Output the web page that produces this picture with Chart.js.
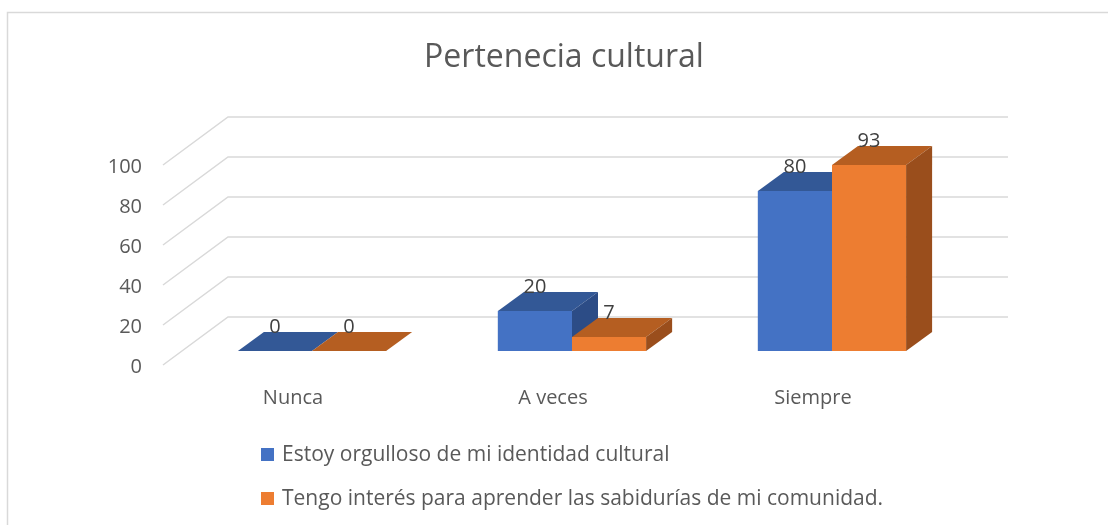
<!DOCTYPE html>
<html>
<head>
<meta charset="utf-8">
<script src="https://cdn.jsdelivr.net/npm/chart.js@4.4.1/dist/chart.umd.min.js"></script>
<style>
  html, body { margin: 0; background: #fff; }
  #wrap { width: 1108px; height: 525px; }
</style>
</head>
<body>
<div id="wrap"><canvas id="chart" width="1108" height="525"></canvas></div>
<script>
// data
const titleText = 'Pertenecia cultural';
const categories = ['Nunca', 'A veces', 'Siempre'];
const seriesNames = [
  'Estoy orgulloso de mi identidad cultural',
  'Tengo interés para aprender las sabidurías de mi comunidad.'
];
const orgullo = [0, 20, 80];
const interes = [0, 7, 93];
const yTicks = [0, 20, 40, 60, 80, 100];

const FONT = '"Open Sans", Lato, sans-serif';
const fronts = ['#4472C4', '#ED7D31'];
const tops = ['#335896', '#B55E21'];
const sides = ['#2C4C86', '#9A4E1C'];

// 3d offsets (px) relative to the bars' front plane
const DEPTH = { dx: 26, dy: -19 };
const BACK = { dx: 46, dy: -34 };
const FRONT = { dx: -19, dy: 14 };

function poly(ctx, pts, color) {
  ctx.fillStyle = color;
  ctx.beginPath();
  ctx.moveTo(pts[0][0], pts[0][1]);
  for (let i = 1; i < pts.length; i++) ctx.lineTo(pts[i][0], pts[i][1]);
  ctx.closePath();
  ctx.fill();
}

const decor = {
  id: 'decor',
  beforeDatasetsDraw(chart) {
    const { ctx, chartArea: a } = chart;
    const y = chart.scales.y, x = chart.scales.x;
    ctx.save();

    // outer frame
    ctx.strokeStyle = '#d9d9d9';
    ctx.lineWidth = 1.5;
    ctx.beginPath();
    ctx.moveTo(7.5, 525);
    ctx.lineTo(7.5, 12.5);
    ctx.lineTo(1108, 12.5);
    ctx.stroke();

    // floor/back-wall gridlines + tick labels
    ctx.font = '20px ' + FONT;
    ctx.fillStyle = '#595959';
    ctx.textAlign = 'right';
    ctx.textBaseline = 'alphabetic';
    yTicks.forEach(v => {
      const py = y.getPixelForValue(v);
      ctx.beginPath();
      ctx.moveTo(a.left + FRONT.dx, py + FRONT.dy);
      ctx.lineTo(a.left + BACK.dx, py + BACK.dy);
      ctx.lineTo(a.right + BACK.dx, py + BACK.dy);
      ctx.stroke();
      ctx.fillText(String(v), a.left + FRONT.dx - 21, py + FRONT.dy + 8);
    });

    // category labels
    ctx.textAlign = 'center';
    categories.forEach((c, i) => {
      ctx.fillText(c, x.getPixelForValue(i) + FRONT.dx, y.getPixelForValue(0) + 53);
    });

    // title
    ctx.font = '32px ' + FONT;
    ctx.fillText(titleText, 564, 67);

    // legend
    ctx.font = '21px ' + FONT;
    ctx.textAlign = 'left';
    const rows = [461, 505];
    seriesNames.forEach((s, i) => {
      ctx.fillStyle = fronts[i];
      ctx.fillRect(261, rows[i] - 13, 13, 13);
      ctx.fillStyle = '#595959';
      ctx.fillText(s, 282, rows[i]);
    });
    ctx.restore();
  },
  afterDatasetsDraw(chart) {
    const { ctx } = chart;
    ctx.save();
    categories.forEach((c, i) => {
      chart.data.datasets.forEach((ds, d) => {
        const el = chart.getDatasetMeta(d).data[i];
        const l = el.x - el.width / 2, r = el.x + el.width / 2;
        const t = el.y, b = el.base;
        ctx.fillStyle = fronts[d];
        ctx.fillRect(l, t, r - l, b - t);
        poly(ctx, [[l, t], [r, t], [r + DEPTH.dx, t + DEPTH.dy], [l + DEPTH.dx, t + DEPTH.dy]], tops[d]);
        poly(ctx, [[r, t], [r, b], [r + DEPTH.dx, b + DEPTH.dy], [r + DEPTH.dx, t + DEPTH.dy]], sides[d]);
      });
    });
    // value labels
    ctx.font = '20px ' + FONT;
    ctx.fillStyle = '#404040';
    ctx.textAlign = 'center';
    chart.data.datasets.forEach((ds, d) => {
      chart.getDatasetMeta(d).data.forEach((el, i) => {
        ctx.fillText(String(ds.data[i]), el.x, el.y - 18);
      });
    });
    ctx.restore();
  }
};

new Chart(document.getElementById('chart'), {
  type: 'bar',
  data: {
    labels: categories,
    datasets: [
      { label: seriesNames[0], data: orgullo, backgroundColor: fronts[0], barPercentage: 1, categoryPercentage: 0.57 },
      { label: seriesNames[1], data: interes, backgroundColor: fronts[1], barPercentage: 1, categoryPercentage: 0.57 }
    ]
  },
  options: {
    responsive: false,
    animation: false,
    layout: { padding: { left: 182, right: 146, top: 151, bottom: 174 } },
    scales: {
      x: { display: false, offset: true },
      y: { display: false, min: 0, max: 100 }
    },
    plugins: {
      legend: { display: false },
      title: { display: false },
      tooltip: { enabled: false }
    }
  },
  plugins: [decor]
});
</script>
</body>
</html>
